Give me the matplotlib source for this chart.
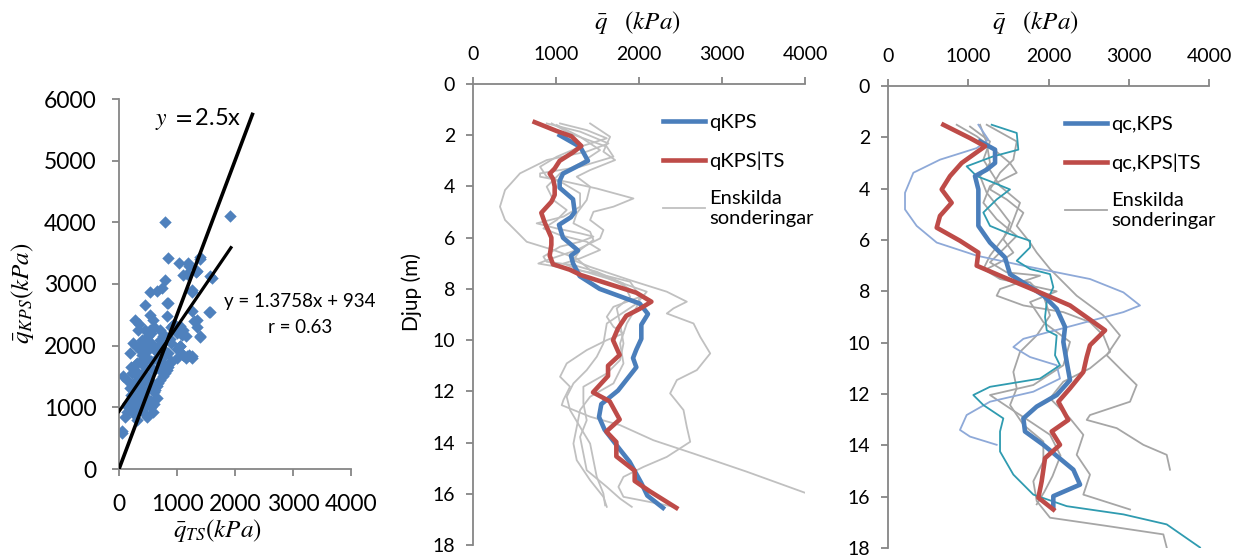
import matplotlib
matplotlib.use('Agg')
import matplotlib.pyplot as plt
import numpy as np

plt.rcParams['font.family'] = ['Lato', 'DejaVu Sans']
plt.rcParams['mathtext.fontset'] = 'stix'

BLUE = "#4A7EBB"
RED = "#BE4B48"
GREY_MID = "#C0C0C0"
GREY_RIGHT = "#A6A6A6"
LIGHTBLUE = "#8EA9D8"
TEAL = "#2F9BB0"
SCATTER = "#4F81BD"
SPINE = "#868686"

# ---- left panel: scatter q_TS vs q_KPS (kPa) ----
q_ts = [793, 1914, 850, 1040, 1195, 1396, 1350, 1178, 1569, 793, 736, 534, 649, 1253,
        448, 822, 534, 822, 1569, 1253, 1339, 1396, 1081, 1052, 937, 276, 333, 592,
        534, 764, 879, 707, 1052, 1167, 1253, 1109, 247, 190, 362, 477, 305, 218, 132,
        75, 190, 247, 161, 247, 132, 103, 46, 592, 477, 649, 822, 879, 764, 678, 419,
        534, 362, 305, 477, 621, 419, 592, 707, 850, 678, 419, 506,
        250, 300, 350, 400, 450, 500, 550, 600, 650, 200, 250, 350, 450, 550, 300, 400,
        500, 600, 650, 700, 750, 800, 850, 900, 300, 200, 150, 50, 350, 450, 550, 600,
        700, 350, 400, 250, 500, 600, 700, 750, 800, 900, 1000, 1100, 1150, 1250, 1050,
        1100, 1300, 1350, 1400, 1000, 900, 800, 450, 550, 600, 700, 350, 1250, 1200,
        1100, 1000, 850, 1400, 1330, 1600, 1550, 950, 1150, 1000, 1200,
        280, 380, 420, 520, 330, 460, 560, 240, 390, 480]
q_kps = [4005, 4103, 3426, 3333, 3344, 3442, 3208, 3165, 3127, 3062, 2938, 2867, 2883, 2873,
         2667, 2694, 2504, 2488, 2542, 2558, 2423, 2135, 2168, 2314, 2341, 2423, 2260, 2423,
         2260, 2152, 2109, 2016, 1989, 1826, 1826, 1854, 2043, 1881, 1935, 1800, 1718, 1556, 1447,
         1501, 1312, 1176, 1068, 959, 932, 851, 580, 932, 1041, 1149, 1610, 1718, 1501, 1393, 1285,
         1393, 1068, 797, 851, 1285, 1556, 1610, 1718, 1881, 1881, 2043, 2152,
         1000, 1100, 1200, 1000, 1150, 1300, 1100, 1250, 1350, 1200, 1400, 1500, 1650, 1750, 1700, 1850,
         2000, 1950, 1800, 1600, 1700, 1550, 1650, 1750, 2000, 1650, 1000, 620, 950, 900, 1000, 1050,
         1450, 1300, 1400, 900, 1500, 1600, 2100, 1950, 2150, 2050, 1950, 1850, 1800, 1800, 2000,
         2250, 2400, 2300, 2150, 2300, 2300, 1850, 2250, 2200, 2300, 2250, 2350, 2900, 3300,
         3150, 2200, 2700, 3400, 3200, 3100, 2550, 2350, 2150, 1800, 1850,
         1600, 1750, 1250, 1450, 1100, 1900, 2050, 1300, 2100, 1150]
line_x = [0, 2300]
fit_x = [0, 1930]
fit_slope, fit_intercept = 1.3758, 934

# ---- middle panel: depth profiles ----
kps_d = [2.0, 2.46, 3.0, 3.5, 3.78, 4.05, 4.5, 5.0, 5.2, 5.5, 6.0, 6.5, 6.7, 7.0, 7.5, 8.0,
         8.57, 8.98, 9.4, 9.95, 10.37, 10.7, 11.06, 11.97, 12.5, 13.0, 13.5, 14.26, 14.75,
         15.58, 16.07, 16.55]
kps_q = [1044, 1293, 1385, 1084, 1044, 1044, 1205, 1225, 1180, 1036, 1084, 1265, 1180, 1205,
         1285, 1526, 2008, 2108, 2028, 2028, 1968, 1928, 1968, 1747, 1546, 1518, 1586, 1767,
         1887, 2028, 2100, 2289]
kpsts_d = [1.49, 1.83, 2.04, 2.42, 2.67, 3.0, 3.3, 3.5, 3.7, 4.0, 4.33, 4.6, 5.03, 5.4, 6.0,
           6.28, 6.7, 7.04, 7.25, 7.46, 8.15, 8.5, 8.78, 9.05, 9.54, 10.0, 10.58, 11.0, 11.4,
           12.04, 12.39, 13.1, 13.57, 13.98, 14.54, 15.1, 15.5, 15.9, 16.55]
kpsts_q = [743, 1004, 1185, 1305, 1205, 1044, 984, 924, 964, 984, 984, 944, 823, 863, 944,
           944, 924, 964, 1165, 1300, 1968, 2149, 2008, 1847, 1747, 1687, 1767, 1627, 1627,
           1446, 1647, 1767, 1606, 1727, 1727, 1948, 1948, 2129, 2450]

mid_grey = [
    ([1.54, 1.86, 2.32, 2.64, 2.97, 3.49, 4.14, 4.79, 5.31, 5.7, 6.16, 6.48, 6.81, 7.27, 7.79,
      8.24, 8.7, 9.35, 10.13, 10.91, 11.69, 12.21, 12.73, 13.39, 14.04, 14.69, 15.47, 16.12, 16.51],
     [888, 1290, 1632, 1370, 888, 566, 386, 325, 386, 506, 647, 968, 1250, 1411, 1772,
      2014, 1973, 1853, 1772, 1813, 1692, 1411, 1290, 1250, 1210, 1250, 1411, 1571, 1612]),
    ([1.54, 1.93, 2.45, 2.84, 3.23, 3.49, 3.62, 3.82, 4.08, 4.47, 4.79, 4.99, 5.31, 5.7, 6.03,
      6.48, 6.88, 7.01, 7.2, 7.4, 7.72, 8.31, 8.7, 9.09, 9.48, 9.74, 10.0, 10.39, 10.91, 11.43,
      11.82, 12.34, 12.54, 12.99, 13.32, 13.91, 14.43, 15.14, 15.96],
     [948, 1169, 1612, 1692, 1290, 808, 808, 1129, 1491, 1933, 1692, 1451, 1411, 1571, 1531,
      1250, 888, 787, 1129, 1491, 1893, 2014, 1692, 1612, 1692, 1813, 1612, 1370, 1129, 1049,
      1169, 1089, 1069, 1411, 1772, 2174, 2657, 3300, 4000]),
    ([1.54, 2.06, 2.64, 2.97, 3.36, 3.62, 4.01, 4.53, 5.05, 5.44, 5.77, 6.09, 6.48, 6.88, 7.14,
      7.66, 8.11, 8.5, 8.76, 8.96, 9.35, 9.87, 10.52, 11.17, 11.56, 12.08, 12.73, 13.39, 13.97,
      14.56, 14.95, 15.34, 15.73, 16.12, 16.45, 16.54],
     [1411, 1652, 1571, 1712, 1411, 1250, 1411, 1370, 1250, 1210, 1411, 1451, 1290, 1210, 1411,
      1893, 2335, 2576, 2416, 2335, 2657, 2737, 2858, 2697, 2456, 2375, 2536, 2576, 2617,
      2335, 2054, 1813, 1752, 1813, 2335, 2456]),
    ([1.54, 1.8, 2.12, 2.45, 2.84, 3.23, 3.62, 3.88, 4.27, 4.79, 5.18, 5.44, 5.64, 5.83, 5.96,
      6.16, 6.35, 6.74, 6.94, 7.07, 7.33, 7.79, 8.31, 8.76, 9.35, 10.13, 10.78, 11.3, 11.82,
      12.47, 13.13, 13.78, 14.43, 15.08, 15.73, 16.19, 16.51],
     [1049, 1370, 1612, 1290, 1009, 808, 888, 1089, 1290, 1290, 1089, 767, 1009, 1290, 1451,
      1290, 1049, 848, 888, 1210, 1491, 1813, 1893, 1732, 1772, 1813, 1772, 1612, 1330,
      1330, 1370, 1290, 1330, 1370, 1612, 1772, 1913]),
    ([1.6, 2.06, 2.58, 3.1, 3.49, 4.01, 4.53, 4.92, 5.31, 5.64, 5.9, 6.16, 6.48, 6.81, 7.01,
      7.27, 7.66, 8.11, 8.57, 8.83, 9.35, 10.13, 10.65, 11.17, 11.69, 12.21, 12.73, 13.39,
      14.04, 14.69, 15.34, 15.99, 16.45],
     [1009, 1290, 1531, 1290, 1049, 888, 968, 1129, 1009, 848, 1049, 1370, 1531, 1290, 1089,
      1290, 1692, 2094, 1973, 1853, 1612, 1571, 1491, 1370, 1210, 1129, 1169, 1290,
      1411, 1451, 1491, 1571, 1592]),
]

# ---- right panel: depth profiles (qc) ----
qc_kps_d = [2.16, 2.48, 3.0, 3.26, 3.51, 4.03, 5.45, 6.1, 6.68, 7.33, 8.16, 8.68, 9.39, 9.97,
            10.75, 11.46, 12.04, 12.49, 12.95, 13.46, 13.98, 14.95, 15.53, 15.98, 16.43]
qc_kps_q = [1147, 1334, 1334, 1230, 1084, 1126, 1126, 1271, 1458, 1520, 1936, 2102, 2206, 2185,
            2227, 2268, 2102, 1853, 1687, 1707, 1936, 2310, 2393, 2060, 2060]
qc_kpsts_d = [1.51, 2.03, 2.35, 3.0, 3.51, 4.03, 4.55, 5.06, 5.52, 6.03, 6.49, 7.0, 7.39, 8.1,
              8.55, 9.52, 10.1, 10.56, 11.14, 11.78, 12.3, 13.01, 13.46, 13.98, 14.5, 15.4,
              16.04, 16.5]
qc_kpsts_q = [690, 1022, 1209, 918, 773, 669, 793, 648, 607, 897, 1126, 1105, 1396, 1936,
              2268, 2705, 2517, 2476, 2434, 2268, 2123, 2247, 2040, 2143, 1957, 1915, 1874, 2060]

lightblue_d = [1.51, 2.09, 2.42, 2.87, 3.38, 4.16, 4.81, 5.45, 6.1, 6.61, 7.0, 7.52, 8.04, 8.55,
               8.81, 9.33, 9.85, 10.17, 10.56, 10.88, 11.4, 11.91, 12.3, 12.82, 13.4, 13.66, 13.98]
lightblue_q = [1126, 1250, 1105, 648, 316, 212, 212, 357, 607, 1105, 1687, 2517, 2933, 3140,
               2933, 2310, 1687, 1562, 1770, 2102, 2143, 1811, 1271, 980, 897, 1022, 1354]
teal_d = [1.51, 1.83, 2.48, 2.74, 3.13, 3.51, 3.71, 4.03, 4.42, 4.93, 5.45, 5.77, 6.03, 6.29,
          6.81, 7.13, 7.33, 7.84, 8.42, 9.0, 9.52, 9.72, 10.49, 10.88, 11.4, 11.72, 12.04, 12.43,
          12.95, 13.46, 14.24, 15.14, 15.92, 16.37, 16.69, 17.08, 17.98]
teal_q = [1292, 1604, 1624, 1313, 980, 1105, 1271, 1520, 1354, 1188, 1271, 1520, 1770, 1770,
          1604, 1770, 2019, 2060, 1978, 1957, 1978, 2102, 2081, 2143, 1894, 1271, 1063, 1188,
          1437, 1396, 1396, 1562, 1811, 2227, 2933, 3473, 3888]

right_grey = [
    ([1.51, 2.16, 2.87, 3.38, 4.03, 4.42, 4.94, 5.45, 6.1, 6.49, 7.13, 7.65, 8.17, 8.94, 9.72,
      10.49, 11.14, 11.65, 12.3, 12.82, 13.01, 13.33, 13.98, 14.37, 14.95],
     [1230, 1604, 1562, 1396, 1271, 1479, 1687, 1604, 1770, 1853, 2019, 2185, 2351, 2684, 2891,
      2725, 2933, 3099, 3016, 2517, 2476, 2850, 3182, 3473, 3514]),
    ([1.51, 1.96, 2.35, 3.0, 3.38, 3.9, 4.55, 5.19, 5.84, 6.36, 6.87, 7.26, 7.39, 7.91, 8.17,
      8.55, 8.81, 9.2, 9.72, 10.36, 11.0, 11.52, 12.17, 12.95, 13.59, 14.37, 15.14, 15.92, 16.5],
     [856, 1105, 1271, 1520, 1604, 1271, 1188, 1354, 1604, 1437, 1271, 1479, 1894, 1396, 1354,
      1687, 2185, 2517, 2684, 2767, 2517, 2185, 2019, 2268, 2434, 2351, 2517, 2434, 3016]),
    ([1.51, 2.22, 3.0, 3.51, 4.16, 4.81, 5.32, 5.97, 6.49, 6.87, 7.13, 7.52, 7.65, 8.17, 8.94,
      9.72, 10.36, 11.14, 11.78, 12.43, 13.2, 13.85, 14.62, 15.4, 16.17, 16.82, 17.14, 17.47, 17.98],
     [1147, 1230, 1271, 1147, 1230, 1396, 1520, 1437, 1562, 1396, 1230, 1479, 1770, 1936, 2019,
      1853, 1645, 1562, 1604, 1521, 1687, 1936, 1936, 1811, 1853, 2019, 2725, 3431, 3473]),
    ([1.58, 2.16, 2.87, 3.9, 4.55, 5.58, 6.61, 7.13, 7.52, 8.0, 8.42, 9.2, 9.97, 10.88, 11.65,
      12.04, 12.56, 13.07, 13.59, 14.4, 15.2, 15.8, 16.3],
     [1022, 1271, 1188, 1396, 1645, 1520, 1271, 1188, 1396, 2102, 1770, 1936, 2268, 2185, 1811,
      1271, 1520, 1770, 2019, 2150, 2050, 1950, 1853]),
]

depth_ticks = np.arange(0, 19, 2)
q_ticks = np.arange(0, 4001, 1000)

fig = plt.figure(figsize=(12.33, 5.56), dpi=100)
W, H = 1233, 556


def px_axes(x0, y0, x1, y1):
    return fig.add_axes([x0 / W, 1 - y1 / H, (x1 - x0) / W, (y1 - y0) / H])


def style_spines(ax, visible):
    for side in ['top', 'bottom', 'left', 'right']:
        ax.spines[side].set_visible(side in visible)
        ax.spines[side].set_color(SPINE)
        ax.spines[side].set_linewidth(1.3)
    ax.tick_params(color=SPINE, width=1.3, length=5, direction='out')


# Left panel
ax1 = px_axes(119, 99, 351, 469)
ax1.scatter(q_ts, q_kps, marker='D', s=40, color=SCATTER, linewidths=0, zorder=2)
ax1.plot(line_x, [2.5 * v for v in line_x], color='black', lw=2.6, zorder=3)
ax1.plot(fit_x, [fit_slope * v + fit_intercept for v in fit_x], color='black', lw=2.3, zorder=3)
ax1.set_xlim(0, 4000)
ax1.set_ylim(0, 6000)
ax1.set_xticks(q_ticks)
ax1.set_yticks(np.arange(0, 6001, 1000))
style_spines(ax1, ['left', 'bottom'])
ax1.tick_params(axis='both', labelsize=16.5)
ax1.tick_params(axis='x', pad=13)
ax1.tick_params(axis='y', pad=11)
ax1.text(620, 5675, r'$y\ =$2.5x', fontsize=17, va='center', ha='left')
ax1.text(3120, 2715, 'y = 1.3758x + 934', fontsize=13.5, va='center', ha='center')
ax1.text(3120, 2293, 'r = 0.63', fontsize=13.5, va='center', ha='center')
fig.text(22 / W, 1 - 293 / H, r'$\bar{q}_{KPS}(kPa)$', rotation=90, fontsize=18,
         ha='center', va='center')
fig.text(217 / W, 1 - 530 / H, r'$\bar{q}_{TS}(kPa)$', fontsize=18, ha='center', va='center')


def depth_axes(ax):
    ax.set_xlim(0, 4000)
    ax.set_ylim(18, 0)
    ax.xaxis.tick_top()
    ax.set_xticks(q_ticks)
    ax.set_yticks(depth_ticks)
    style_spines(ax, ['left', 'top'])
    ax.tick_params(axis='both', labelsize=14)
    ax.tick_params(axis='x', pad=10)
    ax.tick_params(axis='y', pad=8)


# Middle panel
ax2 = px_axes(473, 84, 805, 545)
for i, (d, q) in enumerate(mid_grey):
    ax2.plot(q, d, color=GREY_MID, lw=1.3, zorder=1,
             label='Enskilda\nsonderingar' if i == 0 else None)
ax2.plot(kps_q, kps_d, color=BLUE, lw=3.3, zorder=3, label='qKPS')
ax2.plot(kpsts_q, kpsts_d, color=RED, lw=3.3, zorder=4, label='qKPS|TS')
depth_axes(ax2)
h, l = ax2.get_legend_handles_labels()
order = [1, 2, 0]
ax2.legend([h[i] for i in order], [l[i] for i in order], loc='upper left',
           bbox_to_anchor=(0.572, 0.935), frameon=False, fontsize=14.5, handlelength=2.1,
           handletextpad=0.2, labelspacing=1.0, borderpad=0, borderaxespad=0)
fig.text(637 / W, 1 - 23 / H, r'$\bar{q}\quad(kPa)$', fontsize=18, ha='center', va='center')
fig.text(412 / W, 1 - 292 / H, 'Djup (m)', rotation=90, fontsize=15, ha='center', va='center')

# Right panel
ax3 = px_axes(888, 86, 1209, 548)
for i, (d, q) in enumerate(right_grey):
    ax3.plot(q, d, color=GREY_RIGHT, lw=1.3, zorder=1,
             label='Enskilda\nsonderingar' if i == 0 else None)
ax3.plot(lightblue_q, lightblue_d, color=LIGHTBLUE, lw=1.3, zorder=1)
ax3.plot(teal_q, teal_d, color=TEAL, lw=1.3, zorder=1)
ax3.plot(qc_kps_q, qc_kps_d, color=BLUE, lw=3.3, zorder=3, label='qc,KPS')
ax3.plot(qc_kpsts_q, qc_kpsts_d, color=RED, lw=3.3, zorder=4, label='qc,KPS|TS')
depth_axes(ax3)
h, l = ax3.get_legend_handles_labels()
ax3.legend([h[i] for i in order], [l[i] for i in order], loc='upper left',
           bbox_to_anchor=(0.551, 0.935), frameon=False, fontsize=14.5, handlelength=2.1,
           handletextpad=0.2, labelspacing=1.0, borderpad=0, borderaxespad=0)
fig.text(1035 / W, 1 - 23 / H, r'$\bar{q}\quad(kPa)$', fontsize=18, ha='center', va='center')

fig.savefig('out.png', dpi=100, facecolor='white')
